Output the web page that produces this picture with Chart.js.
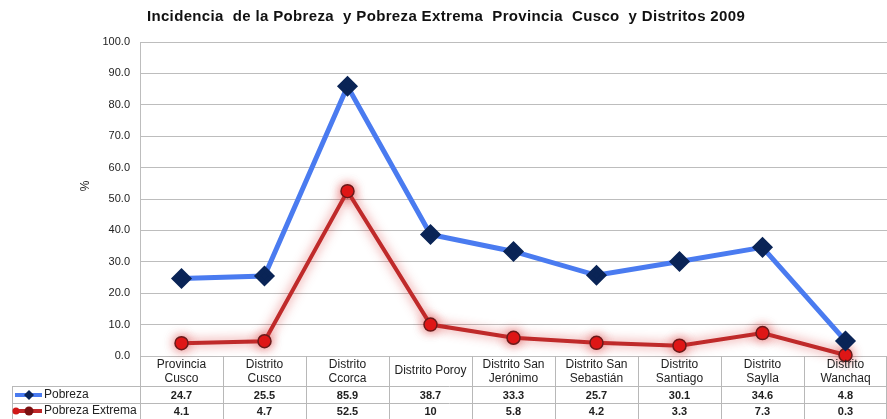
<!doctype html>
<html>
<head>
<title>Pobreza Cusco 2009</title>
<style>
  body { margin: 0; background: #fff; }
</style>
</head>
<body>
<canvas id="chart" width="887" height="419"></canvas>

<script src="https://cdn.jsdelivr.net/npm/chart.js"></script>
<script>

	const titleText = 'Incidencia  de la Pobreza  y Pobreza Extrema  Provincia  Cusco  y Distritos 2009'
	const categories = [
		['Provincia', 'Cusco'], ['Distrito', 'Cusco'], ['Distrito', 'Ccorca'], ['Distrito Poroy'],
		['Distrito San', 'Jerónimo'], ['Distrito San', 'Sebastián'], ['Distrito', 'Santiago'],
		['Distrito', 'Saylla'], ['Distrito', 'Wanchaq']
	]
	const pobreza = [24.7, 25.5, 85.9, 38.7, 33.3, 25.7, 30.1, 34.6, 4.8]
	const pobrezaExtrema = [4.1, 4.7, 52.5, 10, 5.8, 4.2, 3.3, 7.3, 0.3]
	const pobrezaLabels = ['24.7', '25.5', '85.9', '38.7', '33.3', '25.7', '30.1', '34.6', '4.8']
	const extremaLabels = ['4.1', '4.7', '52.5', '10', '5.8', '4.2', '3.3', '7.3', '0.3']
	const yTicks = [0, 10, 20, 30, 40, 50, 60, 70, 80, 90, 100]

	const FONT = 'Arial, "Liberation Sans", sans-serif'

	// glow under the red line
	const glowPlugin = {
		id: 'glow',
		beforeDatasetDraw(chart, args) {
			if (args.index === 1) {
				chart.ctx.save()
				chart.ctx.shadowColor = 'rgba(215, 50, 50, 0.7)'
				chart.ctx.shadowBlur = 11
			}
		},
		afterDatasetDraw(chart, args) {
			if (args.index === 1) chart.ctx.restore()
		}
	}

	// title, axis label and the data table below the plot
	const tablePlugin = {
		id: 'table',
		beforeDatasetsDraw(chart) {
			const ctx = chart.ctx
			const area = chart.chartArea
			const w = (area.right - area.left) / categories.length
			const top = area.bottom
			const r1 = 386, r2 = 403, bottom = 419
			ctx.save()
			ctx.strokeStyle = '#b8b8b8'
			ctx.lineWidth = 1
			ctx.beginPath()
			for (let i = 0; i <= categories.length; i++) {
				const lx = Math.min(Math.round(area.left + i * w), 886) + 0.5
				ctx.moveTo(lx, top); ctx.lineTo(lx, bottom)
			}
			ctx.moveTo(12.5, r1); ctx.lineTo(12.5, bottom)
			ctx.moveTo(12, r1 + 0.5); ctx.lineTo(area.right, r1 + 0.5)
			ctx.moveTo(12, r2 + 0.5); ctx.lineTo(area.right, r2 + 0.5)
			ctx.stroke()
			ctx.restore()
		},
		afterDraw(chart) {
			const ctx = chart.ctx
			const x = chart.scales.x
			const top = chart.chartArea.bottom
			const r1 = 386, r2 = 403, bottom = 419
			ctx.save()

			ctx.fillStyle = '#111'
			ctx.font = 'bold 15px ' + FONT
			ctx.letterSpacing = '0.35px'
			ctx.textAlign = 'center'
			ctx.textBaseline = 'middle'
			ctx.fillText(titleText, 446, 17)
			ctx.letterSpacing = '0px'

			ctx.save()
			ctx.translate(86, 186)
			ctx.rotate(-Math.PI / 2)
			ctx.font = '12px ' + FONT
			ctx.fillStyle = '#222'
			ctx.fillText('%', 0, 0)
			ctx.restore()

			ctx.fillStyle = '#222'
			categories.forEach((lines, i) => {
				const cx = x.getPixelForValue(i)
				ctx.font = '12px ' + FONT
				if (lines.length === 1) {
					ctx.fillText(lines[0], cx, (top + r1) / 2)
				} else {
					ctx.fillText(lines[0], cx, top + 9)
					ctx.fillText(lines[1], cx, top + 23)
				}
				ctx.font = 'bold 11px ' + FONT
				ctx.fillText(pobrezaLabels[i], cx, (r1 + r2) / 2 + 1)
				ctx.fillText(extremaLabels[i], cx, (r2 + bottom) / 2 + 1)
			})

			// legend keys
			ctx.textAlign = 'left'
			ctx.lineWidth = 4
			ctx.strokeStyle = '#4a7bf0'
			ctx.beginPath(); ctx.moveTo(15, 395); ctx.lineTo(42, 395); ctx.stroke()
			ctx.fillStyle = '#0a2456'
			ctx.beginPath()
			ctx.moveTo(29, 390); ctx.lineTo(34, 395); ctx.lineTo(29, 400); ctx.lineTo(24, 395)
			ctx.closePath(); ctx.fill()
			ctx.strokeStyle = '#c0282a'
			ctx.beginPath(); ctx.moveTo(15, 411); ctx.lineTo(42, 411); ctx.stroke()
			ctx.fillStyle = '#d01818'
			ctx.beginPath(); ctx.arc(16, 411, 3.5, 0, Math.PI * 2); ctx.fill()
			ctx.fillStyle = '#7a1010'
			ctx.beginPath(); ctx.arc(29, 411, 4.5, 0, Math.PI * 2); ctx.fill()

			ctx.fillStyle = '#222'
			ctx.font = '12px ' + FONT
			ctx.fillText('Pobreza', 44, 395)
			ctx.fillText('Pobreza Extrema', 44, 411)
			ctx.restore()
		}
	}

	new Chart(document.getElementById('chart'), {
		type: 'line',
		data: {
			labels: categories.map(c => c.join(' ')),
			datasets: [{
				label: 'Pobreza',
				data: pobreza,
				borderColor: '#4a7bf0',
				borderWidth: 5,
				pointStyle: 'rectRot',
				pointRadius: 7,
				pointBackgroundColor: '#0a2456',
				pointBorderColor: '#0a2456',
				clip: false,
				tension: 0
			}, {
				label: 'Pobreza Extrema',
				data: pobrezaExtrema,
				borderColor: '#bf2a2a',
				borderWidth: 4,
				pointStyle: 'circle',
				pointRadius: 6.5,
				pointBackgroundColor: '#e01414',
				pointBorderColor: '#6a1a1a',
				pointBorderWidth: 1.5,
				clip: false,
				tension: 0
			}]
		},
		options: {
			responsive: false,
			animation: false,
			layout: { autoPadding: false, padding: { top: 42, right: 0, left: 0, bottom: 0 } },
			plugins: { legend: { display: false }, tooltip: { enabled: false } },
			scales: {
				x: {
					offset: true,
					grid: { display: false },
					border: { display: false },
					ticks: { display: false },
					afterFit: s => { s.height = 63 }
				},
				y: {
					min: 0,
					max: 100,
					afterBuildTicks: s => { s.ticks = yTicks.map(v => ({ value: v })) },
					afterFit: s => { s.width = 140 },
					grid: { color: '#bdbdbd', drawTicks: false },
					border: { color: '#bdbdbd' },
					ticks: {
						padding: 10,
						color: '#222',
						font: { family: FONT, size: 11 },
						callback: v => v.toFixed(1)
					}
				}
			}
		},
		plugins: [glowPlugin, tablePlugin]
	})

</script>
</body>
</html>
